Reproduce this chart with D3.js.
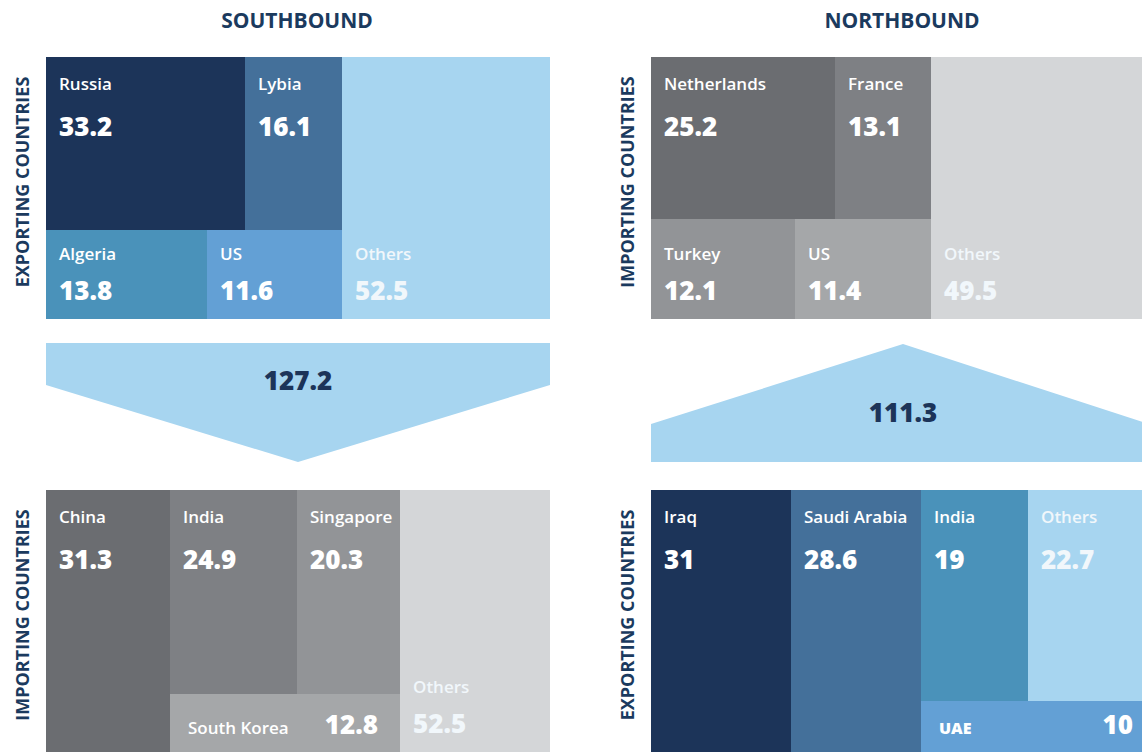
<!DOCTYPE html>
<html>
<head>
<meta charset="utf-8">
<title>Southbound / Northbound</title>
<script src="https://d3js.org/d3.v7.min.js"></script>
<style>
  body { margin: 0; background: #fff; }
  svg { display: block; font-family: "Open Sans", sans-serif; }
</style>
</head>
<body>
<script>
var W = 1142, H = 752;

// flows (total of each direction)
var southTotal = 127.2;
var northTotal = 111.3;

// southbound - exporting countries
var southExpNames  = ["Russia", "Lybia", "Algeria", "US"];
var southExpValues = [33.2, 16.1, 13.8, 11.6];
var southExpOthers = 52.5;

// southbound - importing countries
var southImpNames  = ["China", "India", "Singapore", "South Korea"];
var southImpValues = [31.3, 24.9, 20.3, 12.8];
var southImpOthers = 52.5;

// northbound - importing countries
var northImpNames  = ["Netherlands", "France", "Turkey", "US"];
var northImpValues = [25.2, 13.1, 12.1, 11.4];
var northImpOthers = 49.5;

// northbound - exporting countries
var northExpNames  = ["Iraq", "Saudi Arabia", "India", "UAE"];
var northExpValues = [31, 28.6, 19, 10];
var northExpOthers = 22.7;

var blues = ["#1c3459", "#44709a", "#4a92ba", "#63a0d5", "#a7d5f0"];
var greys = ["#6b6d71", "#7e8084", "#929497", "#a5a7a9", "#d4d6d8"];
var navy = "#1b3a5e";

var pw = 504, ph = 262;   // panel size

var panels = [
  { x: 46,  y: 57,  names: southExpNames, values: southExpValues, others: southExpOthers, total: southTotal,
    colors: blues, side: "EXPORTING COUNTRIES",
    groups: [[[0, 1], [2, 3]], "o"], bottom: ["Algeria", "US", "Others"], inline: [] },
  { x: 651, y: 57,  names: northImpNames, values: northImpValues, others: northImpOthers, total: northTotal,
    colors: greys, side: "IMPORTING COUNTRIES",
    groups: [[[0, 1], [2, 3]], "o"], bottom: ["Turkey", "US", "Others"], inline: [] },
  { x: 46,  y: 490, names: southImpNames, values: southImpValues, others: southImpOthers, total: southTotal,
    colors: greys, side: "IMPORTING COUNTRIES",
    groups: [0, [[1, 2], 3], "o"], bottom: ["Others"], inline: ["South Korea"] },
  { x: 651, y: 490, names: northExpNames, values: northExpValues, others: northExpOthers, total: northTotal,
    colors: blues, side: "EXPORTING COUNTRIES",
    groups: [0, 1, [[2, "o"], 3]], bottom: [], inline: ["UAE"] }
];

var svg = d3.select("body").append("svg")
    .attr("width", W)
    .attr("height", H);

// titles
svg.selectAll("text.title")
  .data([{ t: "SOUTHBOUND", x: 297 }, { t: "NORTHBOUND", x: 902 }])
  .enter().append("text")
  .attr("class", "title")
  .attr("x", function(d) { return d.x; })
  .attr("y", 28)
  .attr("text-anchor", "middle")
  .style("font-size", "21px")
  .style("font-weight", 700)
  .style("fill", navy)
  .text(function(d) { return d.t; });

// builds the nested hierarchy for one panel
function buildNode(g, p) {
  if (g === "o") {
    // others box fills what is left of the total flow
    return { name: "Others", label: p.others, idx: 4, size: p.total - d3.sum(p.values) };
  }
  if (typeof g === "number") {
    return { name: p.names[g], label: p.values[g], idx: g, size: p.values[g] };
  }
  return { children: g.map(function(c) { return buildNode(c, p); }) };
}

var treemap = d3.treemap()
  .tile(d3.treemapSliceDice)
  .size([pw, ph])
  .round(true);

panels.forEach(function(p) {
  var root = d3.hierarchy(buildNode(p.groups, p))
    .sum(function(d) { return d.children ? 0 : d.size; });
  treemap(root);

  var g = svg.append("g").attr("transform", "translate(" + p.x + "," + p.y + ")");

  var cell = g.selectAll("g.cell")
    .data(root.leaves())
    .enter().append("g")
    .attr("class", "cell");

  cell.append("rect")
    .attr("x", function(d) { return d.x0; })
    .attr("y", function(d) { return d.y0; })
    .attr("width", function(d) { return d.x1 - d.x0; })
    .attr("height", function(d) { return d.y1 - d.y0; })
    .style("fill", function(d) { return p.colors[d.data.idx]; });

  function mode(d) {
    if (p.inline.indexOf(d.data.name) >= 0) return "inline";
    if (p.bottom.indexOf(d.data.name) >= 0) return "bottom";
    return "top";
  }

  // country names
  cell.append("text")
    .attr("x", function(d) { return d.x0 + (mode(d) == "inline" ? 18 : 13); })
    .attr("y", function(d) {
      var m = mode(d);
      if (m == "inline") return d.y1 - 18;
      if (m == "bottom") return d.y1 - 59;
      return d.y0 + 33;
    })
    .style("font-size", function(d) { return d.data.name == "UAE" ? "16px" : "17px"; })
    .style("font-weight", function(d) { return d.data.name == "UAE" ? 800 : 600; })
    .style("fill", function(d) { return d.data.idx == 4 ? "#f1f7fb" : "#fff"; })
    .text(function(d) { return d.data.name; });

  // values
  cell.append("text")
    .attr("x", function(d) { return mode(d) == "inline" ? d.x1 - 22 : d.x0 + 13; })
    .attr("y", function(d) {
      var m = mode(d);
      if (m == "inline") return d.y1 - 18;
      if (m == "bottom") return d.y1 - 19;
      return d.y0 + 79;
    })
    .attr("text-anchor", function(d) { return mode(d) == "inline" ? "end" : "start"; })
    .style("font-size", "26px")
    .style("font-weight", 800)
    .style("fill", function(d) { return d.data.idx == 4 ? "#f1f7fb" : "#fff"; })
    .text(function(d) { return d.data.label; });

  // side label
  svg.append("text")
    .attr("transform", "translate(" + (p.x - 17) + "," + (p.y + ph / 2 - 6) + ") rotate(-90)")
    .attr("text-anchor", "middle")
    .style("font-size", "18px")
    .style("font-weight", 700)
    .style("fill", navy)
    .text(p.side);
});

// arrows between the panels
var arrows = [
  { x: 46,  total: southTotal, dir: "down" },
  { x: 651, total: northTotal, dir: "up" }
];

var line = d3.line();

svg.selectAll("path.arrow")
  .data(arrows)
  .enter().append("path")
  .attr("class", "arrow")
  .attr("d", function(d) {
    var x0 = d.x, x1 = d.x + pw, xm = d.x + pw / 2;
    if (d.dir == "down") {
      return line([[x0, 343], [x1, 343], [x1, 385], [xm, 462], [x0, 385]]) + "Z";
    }
    return line([[x0, 462], [x1, 462], [x1, 426], [xm, 344], [x0, 424]]) + "Z";
  })
  .style("fill", "#a7d5f0");

svg.selectAll("text.total")
  .data(arrows)
  .enter().append("text")
  .attr("class", "total")
  .attr("x", function(d) { return d.x + pw / 2; })
  .attr("y", function(d) { return d.dir == "down" ? 390 : 422; })
  .attr("text-anchor", "middle")
  .style("font-size", "26px")
  .style("font-weight", 800)
  .style("fill", "#1c3459")
  .text(function(d) { return d.total; });
</script>
</body>
</html>
